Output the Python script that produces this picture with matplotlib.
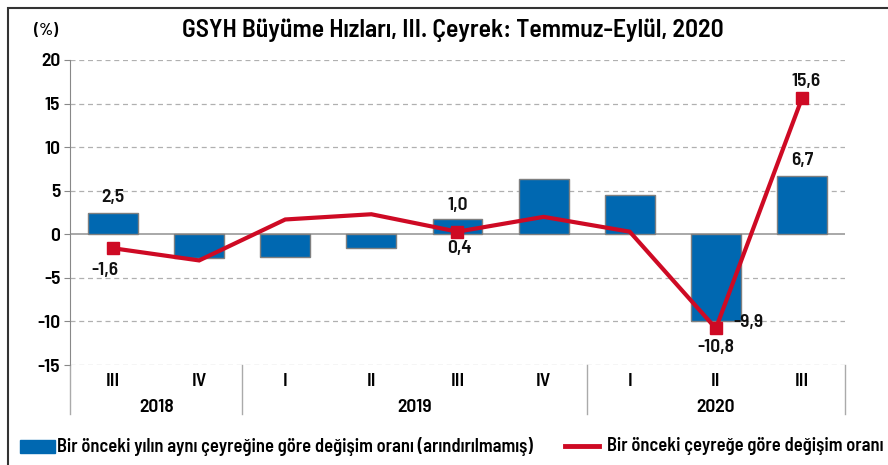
import matplotlib
matplotlib.use("Agg")
import matplotlib.pyplot as plt
from matplotlib.patches import Rectangle
from matplotlib.lines import Line2D
from matplotlib import font_manager as fm

names = {f.name for f in fm.fontManager.ttflist}
pref = [n for n in ["Barlow Semi Condensed", "Asap Condensed", "Archivo Narrow"] if n in names]
plt.rcParams['font.family'] = pref[:1] + ["DejaVu Sans"]

quarters = ["III", "IV", "I", "II", "III", "IV", "I", "II", "III"]
years = ["2018", "2019", "2020"]
year_counts = [2, 4, 3]
yoy = [2.5, -2.7, -2.6, -1.6, 1.8, 6.3, 4.5, -9.9, 6.7]
qoq = [-1.6, -3.0, 1.7, 2.3, 0.3, 2.0, 0.3, -10.8, 15.6]
marked = [0, 4, 7, 8]
label_texts = ["2,5", "-1,6", "1,0", "0,4", "-10,8", "-9,9", "6,7", "15,6"]

title = "GSYH Büyüme Hızları, III. Çeyrek: Temmuz-Eylül, 2020"
leg_bar = "Bir önceki yılın aynı çeyreğine göre değişim oranı (arındırılmamış)"
leg_line = "Bir önceki çeyreğe göre değişim oranı"

BLUE = "#0068B1"
RED = "#CE0A24"
W = 600
FS = 14

fig = plt.figure(figsize=(8.88, 4.65), dpi=100)
ax = fig.add_axes([0.0788, 0.215, 0.8728, 0.656])
x = list(range(len(quarters)))

ax.set_xlim(-0.5, len(quarters) - 0.5)
ax.set_ylim(-15, 20)
for v in range(-15, 21, 5):
    if v != 0:
        ax.axhline(v, color="#b0b0b0", lw=0.9, ls=(0, (4, 3)), zorder=0)
ax.axhline(0, color="#9a9a9a", lw=1.2, zorder=1)

ax.bar(x, yoy, width=0.58, color=BLUE, edgecolor="#7f7f7f", lw=1.0, zorder=2)
ax.plot(x, qoq, color=RED, lw=3, zorder=3, solid_joinstyle="miter")
ax.plot([x[i] for i in marked], [qoq[i] for i in marked], ls="none", marker="s",
        ms=8, color=RED, zorder=4)

kw = dict(fontsize=FS, fontweight=W, color="#111111", zorder=5)
ax.text(0, yoy[0] + 0.8, label_texts[0], ha="center", va="bottom", **kw)
ax.text(-0.1, qoq[0] - 2.5, label_texts[1], ha="center", va="center", **kw)
ax.text(4, yoy[4] + 0.5, label_texts[2], ha="center", va="bottom", **kw)
ax.text(4.02, qoq[4] - 1.0, label_texts[3], ha="center", va="top", **kw)
ax.text(7, qoq[7] - 1.2, label_texts[4], ha="center", va="top", **kw)
ax.text(7.2, qoq[7] + 0.7, label_texts[5], ha="left", va="center", **kw)
ax.text(8, yoy[8] + 0.8, label_texts[6], ha="center", va="bottom", **kw)
ax.text(8.05, qoq[8] + 0.9, label_texts[7], ha="center", va="bottom", **kw)

ax.set_yticks(range(-15, 21, 5))
ax.set_yticklabels([str(v) for v in range(-15, 21, 5)], fontsize=FS, fontweight=W)
ax.tick_params(axis="y", length=4, color="#888888", pad=3)
ax.set_xticks([])
for s in ["top", "right", "bottom"]:
    ax.spines[s].set_visible(False)
ax.spines["left"].set_color("#888888")

# category axis
trans = ax.get_xaxis_transform()
for i, q in enumerate(quarters):
    ax.text(i, -0.055, q, transform=trans, ha="center", va="center",
            fontsize=FS, fontweight=W, clip_on=False)
bounds = [-0.5]
for c in year_counts:
    bounds.append(bounds[-1] + c)
for b in bounds:
    ax.add_line(Line2D([b, b], [0, -0.16], transform=trans, color="#aaaaaa",
                       lw=1.0, clip_on=False))
for k, yname in enumerate(years):
    mid = (bounds[k] + bounds[k + 1]) / 2
    ax.text(mid, -0.14, yname, transform=trans, ha="center", va="center",
            fontsize=FS, fontweight=W, clip_on=False)

fig.text(0.51, 0.935, title, ha="center", va="center", fontsize=18.5, fontweight=W)
fig.text(0.052, 0.935, "(%)", ha="center", va="center", fontsize=12.5, fontweight=W)

# legend
fig.patches.append(Rectangle((0.0225, 0.026), 0.039, 0.028, transform=fig.transFigure,
                             color=BLUE, figure=fig))
fig.text(0.064, 0.040, leg_bar, ha="left", va="center", fontsize=13.3, fontweight=W)
fig.lines.append(Line2D([0.636, 0.674], [0.040, 0.040], transform=fig.transFigure,
                        color=RED, lw=3.5, figure=fig))
fig.text(0.684, 0.040, leg_line, ha="left", va="center", fontsize=13.3, fontweight=W)

# outer frame
fig.patches.append(Rectangle((0.009, -0.1), 1.2, 1.083, transform=fig.transFigure,
                             fill=False, edgecolor="#333333", lw=1.5, figure=fig))

fig.savefig("out.png", dpi=100)
